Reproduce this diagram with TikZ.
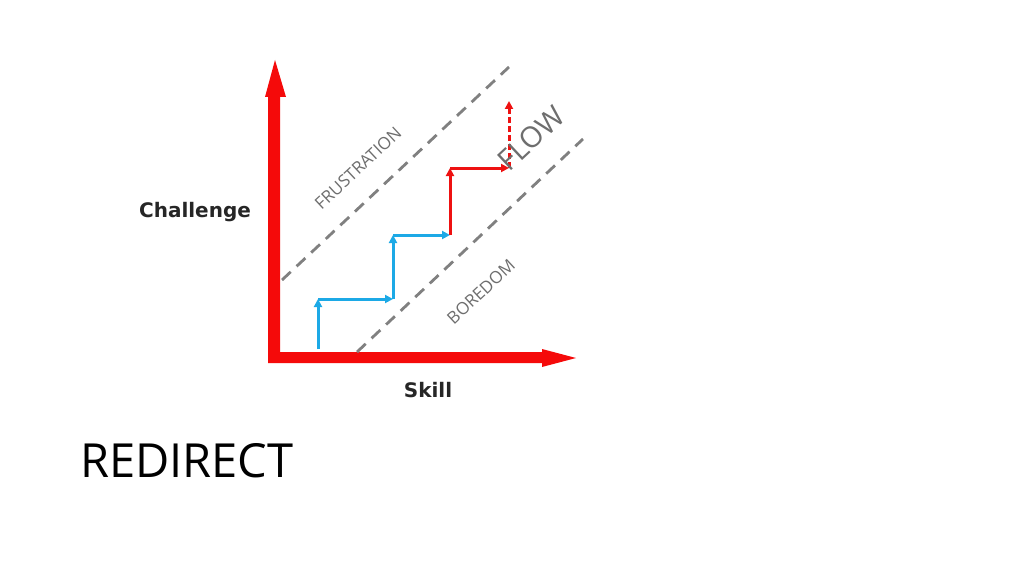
\documentclass[tikz,border=0pt]{standalone}
\usepackage{fontspec}
\setmainfont{Open Sans}
\newfontfamily\labelfont{DejaVu Sans}
\usetikzlibrary{arrows.meta}
\definecolor{axisred}{HTML}{F50A0A}
\definecolor{stepblue}{HTML}{1CA9E6}
\definecolor{stepred}{HTML}{EE1111}
\definecolor{zonegray}{HTML}{808080}
\definecolor{labelgray}{HTML}{6E6E6E}
\tikzset{
  bluestep/.style={stepblue, line width=3pt, -{Triangle[length=8pt,width=8pt]}},
  redstep/.style={stepred, line width=3pt, -{Triangle[length=8pt,width=8pt]}},
  zoneline/.style={zonegray, line width=2.8pt, dash pattern=on 12pt off 8pt},
  zonelabel/.style={labelgray, font=\fontsize{17}{19}\selectfont, rotate=43, inner sep=0pt},
  axislabel/.style={font=\labelfont\fontsize{20}{24}\selectfont\bfseries, inner sep=0pt, text=black!85},
}
\begin{document}
\begin{tikzpicture}[x=1pt,y=-1pt]
\useasboundingbox[fill=white] (0,0) rectangle (1024,575);
% axes
\fill[axisred] (268,363) -- (268,97) -- (265,97) -- (275,60) -- (286,97) -- (280,97) -- (280,352)
  -- (542,352) -- (542,349) -- (576,358) -- (542,367) -- (542,363) -- cycle;
% zone boundaries
\coordinate (u1) at (282,280);
\coordinate (u2) at (509,67);
\coordinate (l1) at (357,352);
\coordinate (l2) at (583,139);
\draw[zoneline] (u1) -- (u2);
\draw[zoneline] (l1) -- (l2);
% steps
\coordinate (s0) at (318,349);
\coordinate (s1) at (318,299);
\coordinate (s2) at (393,299);
\coordinate (s3) at (393,235);
\coordinate (s4) at (450,235);
\coordinate (s5) at (450,168);
\coordinate (s6) at (509,168);
\coordinate (s7) at (509,101);
\draw[bluestep] (s0) -- (s1);
\draw[bluestep] (s1) -- (s2);
\draw[bluestep] (s2) -- (s3);
\draw[bluestep] (s3) -- (s4);
\draw[redstep] (s4) -- (s5);
\draw[redstep] (s5) -- (s6);
\draw[redstep, dash pattern=on 6pt off 3pt] (s6) -- (s7);
% labels
\node[zonelabel] (frus) at (358,168) {FRUSTRATION};
\node[zonelabel] (bore) at (481,292) {BOREDOM};
\node[zonelabel, font=\fontsize{29}{32}\selectfont] (flow) at (531,138) {FLOW};
\node[axislabel] (chal) at (195,212) {Challenge};
\node[axislabel] (skill) at (428,390) {Skill};
\node[font=\fontsize{47}{52}\selectfont, anchor=base west, inner sep=0pt] (redir) at (80,477) {REDIRECT};
\end{tikzpicture}
\end{document}
